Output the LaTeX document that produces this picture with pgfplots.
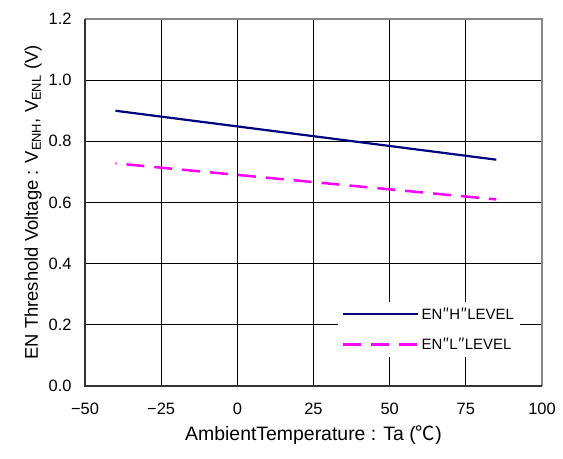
\documentclass[border=0pt]{standalone}
\usepackage{pgfplots}
\pgfplotsset{compat=1.18}
\usepackage{fontspec}
\setmainfont{Liberation Sans}
\newfontfamily\cjk{Noto Sans CJK JP}
\definecolor{navyline}{HTML}{000080}
\definecolor{magline}{HTML}{FF00FF}
\definecolor{frameL}{HTML}{333333}
\definecolor{frameR}{HTML}{888888}
\begin{document}
\begin{tikzpicture}[x=1bp,y=1bp]
\useasboundingbox (-85bp,-73bp) rectangle (478bp,386bp);
\begin{axis}[
  at={(0,0)}, anchor=south west,
  scale only axis, width=457bp, height=367bp,
  xmin=-50, xmax=100, ymin=0, ymax=1.2,
  xtick={-50,-25,0,25,50,75,100},
  xticklabels={−50,−25,0,25,50,75,100},
  ytick={0,0.2,0.4,0.6,0.8,1.0,1.2},
  yticklabels={0.0,0.2,0.4,0.6,0.8,1.0,1.2},
  tick style={draw=none},
  grid=major,
  major grid style={black, line width=0.8bp},
  axis line style={draw=none},
  ticklabel style={font=\fontsize{16.5}{19}\selectfont},
  xticklabel style={yshift=-14bp},
  yticklabel style={xshift=-10bp},
  xlabel={AmbientTemperature : Ta ({\cjk ℃})},
  ylabel={EN Threshold Voltage : V\textsubscript{ENH}, V\textsubscript{ENL} (V)},
  xlabel style={font=\fontsize{19.5}{22}\selectfont, yshift=-4bp},
  ylabel style={font=\fontsize{18.5}{22}\selectfont, yshift=0bp},
  legend style={at={(0.952,0.079)}, anchor=south east, draw=none, fill=white,
    font=\fontsize{15}{18}\selectfont, inner xsep=4bp, inner ysep=4bp,
    row sep=13bp, nodes={inner xsep=2bp}},
  legend cell align=left,
  legend image code/.code={\draw[#1, dash phase=0bp] (0bp,0bp) -- (75bp,0bp);},
  clip=false,
]
\addplot[navyline, line width=2.2bp] coordinates {(-40,0.900) (85,0.740)};
\addlegendentry{EN{\cjk ″}H{\cjk ″}LEVEL}
\addplot[magline, line width=2.5bp, dash pattern=on 18bp off 10bp, dash phase=17bp] coordinates {(-40,0.728) (85,0.610)};
\addlegendentry{EN{\cjk ″}L{\cjk ″}LEVEL}
\draw[frameR, line width=2bp] (axis cs:-50,1.2) -- (axis cs:100,1.2) -- (axis cs:100,0);
\draw[frameL, line width=2bp] (axis cs:-50,1.2) -- (axis cs:-50,0) -- (axis cs:100,0);
\end{axis}
\end{tikzpicture}
\end{document}
